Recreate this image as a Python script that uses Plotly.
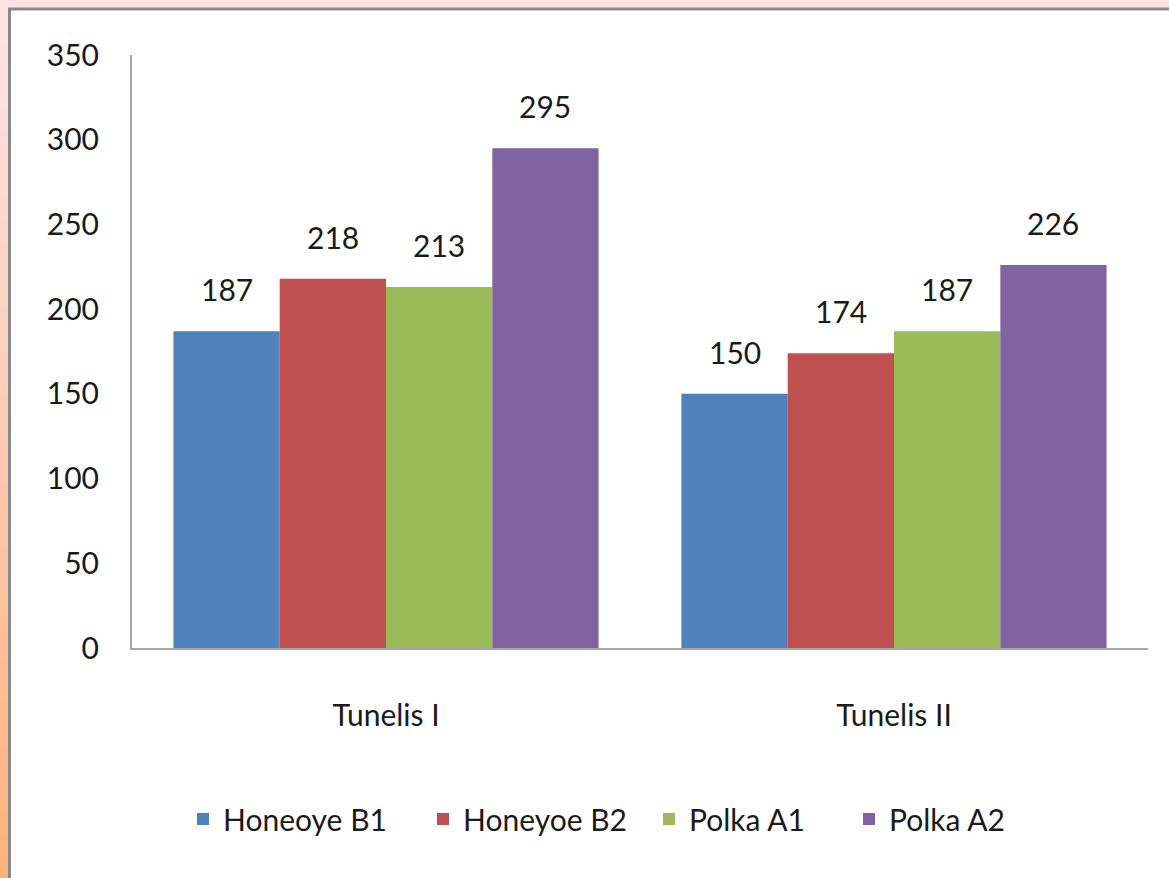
import plotly.graph_objects as go

categories = ["Tunelis I", "Tunelis II"]
series_names = ["Honeoye B1", "Honeyoe B2", "Polka A1", "Polka A2"]
honeoye_b1 = [187, 150]
honeyoe_b2 = [218, 174]
polka_a1 = [213, 187]
polka_a2 = [295, 226]
y_ticks = [0, 50, 100, 150, 200, 250, 300, 350]

colors = ["#4f81bd", "#c0504d", "#9bbb59", "#8064a2"]
values = [honeoye_b1, honeyoe_b2, polka_a1, polka_a2]
legend_left_px = [197, 437, 663, 863]

W, H = 1169, 878
L, R, T, B = 132, 21, 55, 230
pw, ph = W - L - R, H - T - B

def px_x(p):
    return (p - L) / pw

def px_y(p):
    return (H - B - p) / ph

FONT = "Lato"
fig = go.Figure()
legend_keys = ["legend", "legend2", "legend3", "legend4"]
for name, vals, c, lk in zip(series_names, values, colors, legend_keys):
    fig.add_trace(go.Bar(name=name, x=categories, y=vals, legend=lk,
                         marker=dict(color=c, line=dict(width=0))))

# data labels
bar_w = pw / len(categories) * (1 - 0.163) / 4
for i, vals in enumerate(values):
    for cat, v in zip(categories, vals):
        fig.add_annotation(x=cat, y=v, text=str(v), showarrow=False,
                           xshift=(i - 1.5) * bar_w, yshift=22, yanchor="bottom",
                           font=dict(family=FONT, size=30, color="#1a1a1a"))

shapes = []
# pink top strip
shapes.append(dict(type="rect", xref="paper", yref="paper", x0=px_x(0), x1=px_x(W), y0=px_y(0), y1=px_y(8),
                   fillcolor="#fde3e3", line=dict(width=0), layer="below"))
# left gradient strip
n = 40
def lerp(a, b, t):
    return int(round(a + (b - a) * t))
c0 = (0xfd, 0xe3, 0xe6)
c1 = (0xfd, 0xb2, 0x7c)
for k in range(n):
    t = k / (n - 1)
    col = "rgb(%d,%d,%d)" % tuple(lerp(c0[j], c1[j], t) for j in range(3))
    shapes.append(dict(type="rect", xref="paper", yref="paper", x0=px_x(0), x1=px_x(8),
                       y0=px_y(H * (k + 1) / n + 1), y1=px_y(H * k / n),
                       fillcolor=col, line=dict(width=0), layer="below"))
# gray border
shapes.append(dict(type="line", xref="paper", yref="paper", x0=px_x(8), x1=px_x(W), y0=px_y(9), y1=px_y(9),
                   line=dict(color="#8a8a8a", width=3)))
shapes.append(dict(type="line", xref="paper", yref="paper", x0=px_x(9.5), x1=px_x(9.5), y0=px_y(8), y1=px_y(H),
                   line=dict(color="#8a8a8a", width=3)))

legend_base = dict(orientation="h", xanchor="left", y=px_y(819), yanchor="middle",
                   font=dict(family=FONT, size=30, color="#1a1a1a"), itemwidth=30,
                   bgcolor="rgba(0,0,0,0)")
legends = {lk: dict(legend_base, x=px_x(lx - 14)) for lk, lx in zip(legend_keys, legend_left_px)}

fig.update_layout(
    width=W, height=H,
    margin=dict(l=L, r=R, t=T, b=B),
    paper_bgcolor="white", plot_bgcolor="white",
    barmode="group", bargap=0.163, bargroupgap=0,
    font=dict(family=FONT, size=30, color="#1a1a1a"),
    showlegend=True,
    xaxis=dict(showline=True, linecolor="#a6a6a6", linewidth=2, ticks="", showgrid=False,
               tickfont=dict(family=FONT, size=30), ticklabelstandoff=40),
    yaxis=dict(range=[0, 350], tickvals=y_ticks, showline=True, linecolor="#a6a6a6", linewidth=2,
               ticks="", showgrid=False, zeroline=False,
               tickfont=dict(family=FONT, size=30), ticklabelstandoff=25),
    shapes=shapes,
    **legends,
)

fig.write_html("out.html", config={"displayModeBar": False},
               post_script="document.body.style.margin='0px';")
